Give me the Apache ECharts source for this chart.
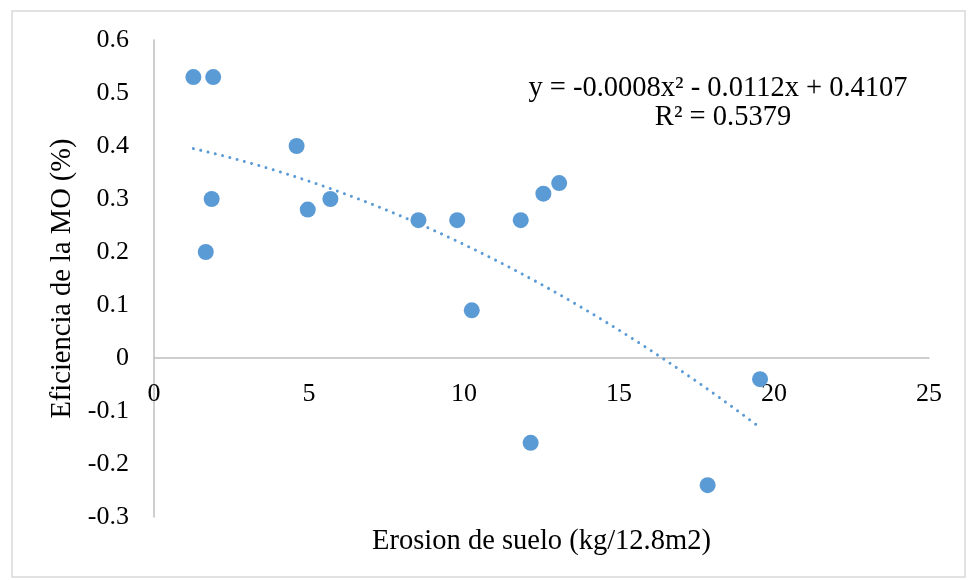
<!DOCTYPE html>
<html>
<head>
<meta charset="utf-8">
<script src="https://cdn.jsdelivr.net/npm/echarts@6/dist/echarts.min.js"></script>
<style>
html,body{margin:0;padding:0;background:#fff;}
#chart{width:968px;height:580px;}
</style>
</head>
<body>
<div id="chart"></div>
<script>
// Data
const erosion = [1.27, 1.91, 4.60, 1.86, 1.67, 4.96, 5.69, 8.53, 9.78, 10.25, 11.83, 12.15, 12.56, 13.07, 17.86, 19.55];
const eficiencia = [0.53, 0.53, 0.40, 0.30, 0.20, 0.28, 0.30, 0.26, 0.26, 0.09, 0.26, -0.16, 0.31, 0.33, -0.24, -0.04];
// Polynomial trendline a*x^2 + b*x + c; printed (rounded) as -0.0008, -0.0112, 0.4107.
// The drawn curve corresponds to a slightly larger |a| (unrounded value).
const trendCoef = [-0.000845, -0.0112, 0.4107];
const trendText = ['y = -0.0008x\u00B2 - 0.0112x + 0.4107', 'R\u00B2 = 0.5379'];
const xTitle = 'Erosion de suelo (kg/12.8m2)';
const yTitle = 'Eficiencia de la MO (%)';

const points = erosion.map((x, i) => [x, eficiencia[i]]);
const xMin = Math.min(...erosion), xMax = Math.max(...erosion);
const trend = [];
const steps = 60;
for (let i = 0; i <= steps; i++) {
  const x = xMin + (xMax - xMin) * i / steps;
  trend.push([x, trendCoef[0] * x * x + trendCoef[1] * x + trendCoef[2]]);
}

const FONT = '"Liberation Serif", "Times New Roman", serif';
const GRID = {left: 154, right: 39, top: 40, bottom: 63};
const Y_MIN = -0.3, Y_MAX = 0.6;
// shift the x axis up so it sits on y = 0 (labels follow it)
const plotH = 580 - GRID.top - GRID.bottom;
const xAxisOffset = -Math.round(plotH * (0 - Y_MIN) / (Y_MAX - Y_MIN));

const chart = echarts.init(document.getElementById('chart'), null, {renderer: 'canvas'});
chart.setOption({
  animation: false,
  backgroundColor: '#ffffff',
  grid: Object.assign({containLabel: false, outerBoundsMode: 'none'}, GRID),
  xAxis: {
    type: 'value', min: 0, max: 25, interval: 5,
    position: 'bottom', offset: xAxisOffset,
    axisLine: {onZero: false, lineStyle: {color: '#bfbfbf', width: 1.5}},
    axisTick: {show: false},
    splitLine: {show: false},
    axisLabel: {color: '#000', fontFamily: FONT, fontSize: 26, margin: 23},
    name: xTitle, nameLocation: 'middle', nameGap: 169,
    nameTextStyle: {color: '#000', fontFamily: FONT, fontSize: 28.5}
  },
  yAxis: {
    type: 'value', min: Y_MIN, max: Y_MAX, interval: 0.1,
    axisLine: {onZero: false, lineStyle: {color: '#bfbfbf', width: 1.5}},
    axisTick: {show: false},
    splitLine: {show: false},
    axisLabel: {color: '#000', fontFamily: FONT, fontSize: 26, margin: 25,
      formatter: v => String(Math.round(v * 10) / 10)},
    name: yTitle, nameLocation: 'middle', nameGap: 75,
    nameTextStyle: {color: '#000', fontFamily: FONT, fontSize: 28.5}
  },
  graphic: [
    {type: 'rect', silent: true, z: -1,
      shape: {x: 12, y: 11, width: 953, height: 566},
      style: {fill: 'none', stroke: '#d9d9d9', lineWidth: 1.5}},
    {type: 'text', silent: true,
      x: 718, y: 89,
      style: {text: trendText[0], font: '28.5px ' + FONT, fill: '#000', textAlign: 'center', textVerticalAlign: 'middle'}},
    {type: 'text', silent: true,
      x: 723, y: 118,
      style: {text: trendText[1], font: '28.5px ' + FONT, fill: '#000', textAlign: 'center', textVerticalAlign: 'middle'}}
  ],
  series: [
    {
      type: 'scatter', data: points, symbolSize: 16,
      itemStyle: {color: '#5b9bd5', opacity: 1}, z: 3
    },
    {
      type: 'line', data: trend, showSymbol: false, smooth: false,
      lineStyle: {color: '#5b9bd5', width: 3, type: [0.01, 7.5], cap: 'round'}, z: 2
    }
  ]
});
</script>
</body>
</html>
